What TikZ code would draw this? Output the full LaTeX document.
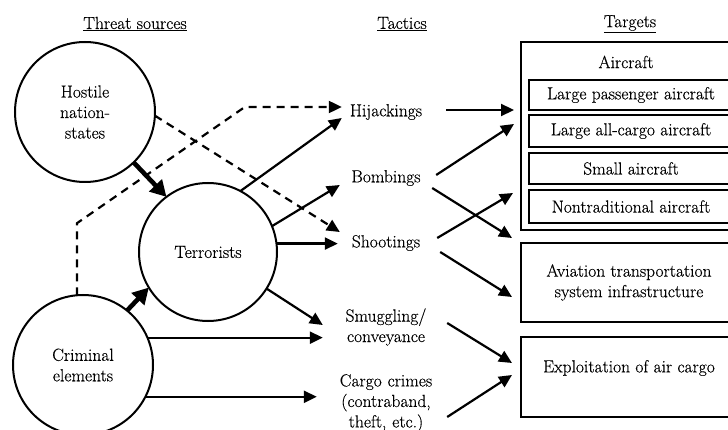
\documentclass[tikz,border=0pt]{standalone}
\usepackage{fontspec}
\setmainfont{Latin Modern Roman}[FakeBold=0.35]
\usetikzlibrary{arrows.meta,calc}
\begin{document}
\begin{tikzpicture}[x=1pt,y=-1pt,
  font=\fontsize{17.5}{20.5}\selectfont,
  conn/.style={line width=2.2pt,-{Triangle[length=13pt,width=12pt]}},
  dconn/.style={conn,dash pattern=on 8pt off 6pt},
  heavy/.style={line width=4.6pt,-{Triangle[length=16pt,width=17pt]}},
  source/.style={circle,draw,line width=2pt,minimum size=140pt,inner sep=0pt,outer sep=0pt,align=center},
  tactic/.style={text width=100pt,inner sep=0pt,align=center},
  targetbox/.style={draw,line width=2.2pt,anchor=north west,inner sep=0pt,outer sep=0pt,align=center},
  header/.style={inner sep=0pt}]
\useasboundingbox (0,0) rectangle (728,430);
\clip (0,0) rectangle (728,430);

% column headings
\node[header] (hsrc) at (135,24) {\underline{Threat sources}};
\node[header] (htac) at (402,24) {\underline{Tactics}};
\node[header] (htgt) at (630,24) {\underline{Targets}};

% threat sources
\node[source] (hostile) at (85,112) {Hostile\\nation-\\states};
\node[source,minimum size=138pt] (terr) at (208,252) {Terrorists};
\node[source] (crim) at (83,365) {Criminal\\elements};

% tactics
\node[tactic] (hij) at (386,112) {Hijackings};
\node[tactic] (bomb) at (386,178) {Bombings};
\node[tactic] (shoot) at (386,243) {Shootings};
\node[tactic] (smug) at (386,327) {Smuggling/\\conveyance};
\node[tactic] (cargo) at (386,403) {Cargo crimes\\(contraband,\\theft, etc.)};

% targets
\node[targetbox,minimum width=216pt,minimum height=188pt] (air) at (521,42) {};
\node[inner sep=0pt] (airlbl) at (626,62) {Aircraft};
\node[targetbox,line width=2pt,minimum width=204pt,minimum height=30pt] (lpa) at (529,80) {Large passenger aircraft};
\node[targetbox,line width=2pt,minimum width=204pt,minimum height=32pt] (lac) at (529,115) {Large all-cargo aircraft};
\node[targetbox,line width=2pt,minimum width=204pt,minimum height=31pt] (sma) at (529,153) {Small aircraft};
\node[targetbox,line width=2pt,minimum width=204pt,minimum height=33pt] (nta) at (529,190) {Nontraditional aircraft};
\node[targetbox,minimum width=216pt,minimum height=79pt] (avi) at (521,243) {Aviation transportation\\system infrastructure};
\node[targetbox,minimum width=216pt,minimum height=80pt] (expl) at (521,337) {};
\node[inner sep=0pt] (expllbl) at (629,368) {Exploitation of air cargo};

% sources feeding terrorists
\draw[heavy] (hostile.-46) -- (terr.127);
\draw[heavy] (crim.51) -- (terr.211);

% dashed links
\draw[dconn] (crim.95) -- ++(0,-72) -- ([xshift=-91pt,yshift=5pt]hij.west) -- ([xshift=6pt,yshift=5pt]hij.west);
\draw[dconn] (hostile.-3) -- ([xshift=4pt,yshift=11pt]shoot.west);

% terrorists to tactics
\coordinate (shootin) at ([xshift=2pt]shoot.west);
\coordinate (smugin) at ([xshift=-13pt,yshift=-10pt]smug.west);
\coordinate (cargoin) at ([xshift=-19pt,yshift=6pt]cargo.west);
\draw[conn] (terr.62.5) -- ([xshift=6pt,yshift=-6pt]hij.west);
\draw[conn] (terr.22) -- ([xshift=4pt,yshift=-7pt]bomb.west);
\draw[conn] (terr.7.5) -- (terr.7.5 -| shootin);
\draw[conn] (terr.-32) -- ([xshift=-13pt,yshift=2pt]smug.west);

% criminal elements to tactics
\draw[conn] (crim.23.6) -- (crim.23.6 -| smugin);
\draw[conn] (crim.-27) -- (crim.-27 -| cargoin);

% tactics to targets
\draw[conn] ([xshift=10pt,yshift=2pt]hij.east) -- ([xshift=-7pt,yshift=-68pt]air.north west);
\draw[conn] ([yshift=3pt]bomb.east) -- ([xshift=-7pt,yshift=-82pt]air.north west);
\draw[conn] ([xshift=-4pt,yshift=-10pt]bomb.east) -- ([xshift=-9pt,yshift=5pt]avi.north west);
\draw[conn] ([xshift=1pt,yshift=5pt]shoot.east) -- ([xshift=-8pt,yshift=-151pt]air.north west);
\draw[conn] ([xshift=4pt,yshift=-9pt]shoot.east) -- ([xshift=-9pt,yshift=-54pt]avi.north west);
\draw[conn] ([xshift=11pt,yshift=4pt]smug.east) -- ([xshift=-9pt,yshift=-26pt]expl.north west);
\draw[conn] ([xshift=11pt,yshift=-14pt]cargo.east) -- ([xshift=-9pt,yshift=-38pt]expl.north west);
\end{tikzpicture}
\end{document}
